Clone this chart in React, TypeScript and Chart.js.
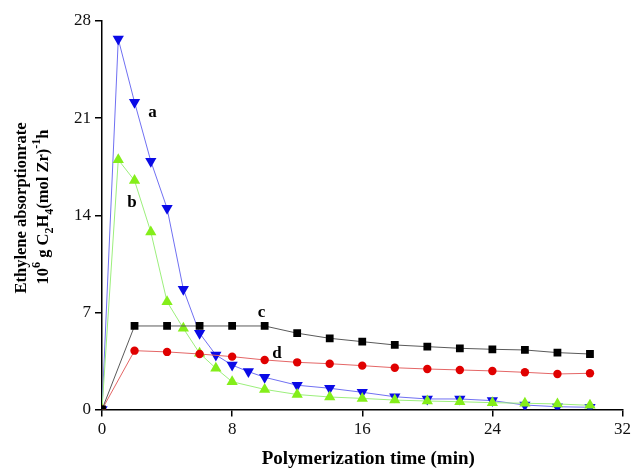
import React, { useEffect, useRef } from "react";
import { Chart, registerables } from "chart.js";

Chart.register(...registerables);

// Series a (blue, down triangles)
const timeA = [0, 1, 2, 3, 4, 5, 6, 7, 8, 9, 10, 12, 14, 16, 18, 20, 22, 24, 26, 28, 30];
const rateA = [0, 26.7, 22.15, 17.9, 14.5, 8.67, 5.5, 3.93, 3.2, 2.73, 2.32, 1.75, 1.53, 1.24, 0.92, 0.76, 0.76, 0.64, 0.32, 0.2, 0.16];
// Series b (green, up triangles)
const timeB = [0, 1, 2, 3, 4, 5, 6, 7, 8, 10, 12, 14, 16, 18, 20, 22, 24, 26, 28, 30];
const rateB = [0, 18.0, 16.5, 12.8, 7.77, 5.85, 4.05, 2.97, 2.0, 1.45, 1.08, 0.9, 0.8, 0.68, 0.61, 0.56, 0.49, 0.45, 0.4, 0.3];
// Series c (black squares)
const timeC = [0, 2, 4, 6, 8, 10, 12, 14, 16, 18, 20, 22, 24, 26, 28, 30];
const rateC = [0, 6.02, 6.02, 6.02, 6.02, 6.02, 5.5, 5.13, 4.89, 4.65, 4.53, 4.41, 4.34, 4.29, 4.1, 4.0];
// Series d (red circles)
const timeD = [0, 2, 4, 6, 8, 10, 12, 14, 16, 18, 20, 22, 24, 26, 28, 30];
const rateD = [0, 4.24, 4.15, 4.0, 3.81, 3.57, 3.4, 3.3, 3.16, 3.01, 2.92, 2.85, 2.78, 2.68, 2.56, 2.61];

// Axis ticks
const xTicks = [0, 8, 16, 24, 32];
const yTicks = [0, 7, 14, 21, 28];

// Curve labels (data coordinates)
const curveLabels = ["a", "b", "c", "d"];
const curveLabelX = [3.1, 1.85, 9.8, 10.75];
const curveLabelY = [21.4, 14.9, 7.0, 4.05];

const xTitle = "Polymerization time (min)";
const yTitleLine1 = [{ t: "Ethylene absorptionrate", s: "n" }];
const yTitleLine2 = [
  { t: "10", s: "n" },
  { t: "6", s: "sup" },
  { t: " g C", s: "n" },
  { t: "2", s: "sub" },
  { t: "H", s: "n" },
  { t: "4", s: "sub" },
  { t: "(mol Zr)", s: "n" },
  { t: "-1", s: "sup" },
  { t: "h", s: "n" },
];

const SERIF = '"Liberation Serif", "Times New Roman", serif';

const toPoints = (xs: number[], ys: number[]) => xs.map((x, i) => ({ x, y: ys[i] }));

const annotatePlugin = {
  id: "annotate",
  afterDraw(chart: any) {
    const ctx = chart.ctx as CanvasRenderingContext2D;
    const ca = chart.chartArea;
    const xs = chart.scales.x;
    const ys = chart.scales.y;
    ctx.save();
    ctx.fillStyle = "#000";
    // curve labels
    ctx.font = `bold 17px ${SERIF}`;
    ctx.textAlign = "center";
    ctx.textBaseline = "middle";
    curveLabels.forEach((l, i) => {
      ctx.fillText(l, xs.getPixelForValue(curveLabelX[i]), ys.getPixelForValue(curveLabelY[i]));
    });
    // x title
    ctx.font = `bold 19px ${SERIF}`;
    ctx.fillText(xTitle, (ca.left + ca.right) / 2 + 6, 459);
    // y title (rotated, rich text)
    const base = 16.5;
    const drawRich = (segs: { t: string; s: string }[], cx: number, cy: number) => {
      const fontFor = (s: string) => `bold ${s === "n" ? base : Math.round(base * 0.72)}px ${SERIF}`;
      let total = 0;
      segs.forEach((sg) => {
        ctx.font = fontFor(sg.s);
        total += ctx.measureText(sg.t).width;
      });
      ctx.save();
      ctx.translate(cx, cy);
      ctx.rotate(-Math.PI / 2);
      ctx.textAlign = "left";
      ctx.textBaseline = "alphabetic";
      let pos = -total / 2;
      const baseline = base * 0.35;
      segs.forEach((sg) => {
        ctx.font = fontFor(sg.s);
        const dy = sg.s === "sup" ? -base * 0.45 : sg.s === "sub" ? base * 0.3 : 0;
        ctx.fillText(sg.t, pos, baseline + dy);
        pos += ctx.measureText(sg.t).width;
      });
      ctx.restore();
    };
    drawRich(yTitleLine1, 20, 208);
    drawRich(yTitleLine2, 42, 207);
    ctx.restore();
  },
};

export default function App() {
  const ref = useRef<HTMLCanvasElement | null>(null);
  useEffect(() => {
    if (!ref.current) return;
    const chart = new Chart(ref.current, {
      type: "line",
      data: {
        datasets: [
          {
            label: "c",
            data: toPoints(timeC, rateC),
            borderColor: "#5a5a5a",
            backgroundColor: "#000000",
            pointBackgroundColor: "#000000",
            pointBorderColor: "#000000",
            pointStyle: "rect",
            pointRadius: 5.5,
            borderWidth: 1,
            pointBorderWidth: 0,
          },
          {
            label: "d",
            data: toPoints(timeD, rateD),
            borderColor: "#e46666",
            backgroundColor: "#e00000",
            pointBackgroundColor: "#e00000",
            pointBorderColor: "#e00000",
            pointStyle: "circle",
            pointRadius: 4.2,
            borderWidth: 1,
            pointBorderWidth: 0,
          },
          {
            label: "b",
            data: toPoints(timeB, rateB),
            borderColor: "#9cef7c",
            backgroundColor: "#84ee1a",
            pointBackgroundColor: "#84ee1a",
            pointBorderColor: "#84ee1a",
            pointStyle: "triangle",
            pointRadius: 6.5,
            borderWidth: 1,
            pointBorderWidth: 0,
          },
          {
            label: "a",
            data: toPoints(timeA, rateA),
            borderColor: "#7070f2",
            backgroundColor: "#0a0ae6",
            pointBackgroundColor: "#0a0ae6",
            pointBorderColor: "#0a0ae6",
            pointStyle: "triangle",
            pointRotation: 180,
            pointRadius: 6.5,
            borderWidth: 1,
            pointBorderWidth: 0,
          },
        ],
      },
      options: {
        responsive: false,
        animation: false,
        events: [],
        layout: { padding: { left: 0, right: 9, top: 21, bottom: 0 } },
        plugins: { legend: { display: false }, tooltip: { enabled: false }, title: { display: false } },
        scales: {
          x: {
            type: "linear",
            min: 0,
            max: 32,
            afterFit: (s: any) => {
              s.height = 58.5;
            },
            afterBuildTicks: (s: any) => {
              s.ticks = xTicks.map((v) => ({ value: v }));
            },
            ticks: {
              font: { family: SERIF, size: 17 },
              color: "#111",
              padding: 3,
              maxRotation: 0,
            },
            grid: { drawOnChartArea: false, drawTicks: true, tickLength: 7, color: "#000", lineWidth: 1.5 },
            border: { display: true, color: "#000", width: 1.5 },
          },
          y: {
            type: "linear",
            min: 0,
            max: 28,
            afterFit: (s: any) => {
              s.width = 102;
            },
            afterBuildTicks: (s: any) => {
              s.ticks = yTicks.map((v) => ({ value: v }));
            },
            ticks: {
              font: { family: SERIF, size: 17 },
              color: "#111",
              padding: 4,
            },
            grid: { drawOnChartArea: false, drawTicks: true, tickLength: 7, color: "#000", lineWidth: 1.5 },
            border: { display: true, color: "#000", width: 1.5 },
          },
        },
      },
      plugins: [annotatePlugin],
    } as any);
    return () => chart.destroy();
  }, []);
  return (
    <div style={{ position: "absolute", left: 0, top: 0, width: 634, height: 468, background: "#fff" }}>
      <canvas ref={ref} width={634} height={468} style={{ width: 634, height: 468, display: "block" }} />
    </div>
  );
}
